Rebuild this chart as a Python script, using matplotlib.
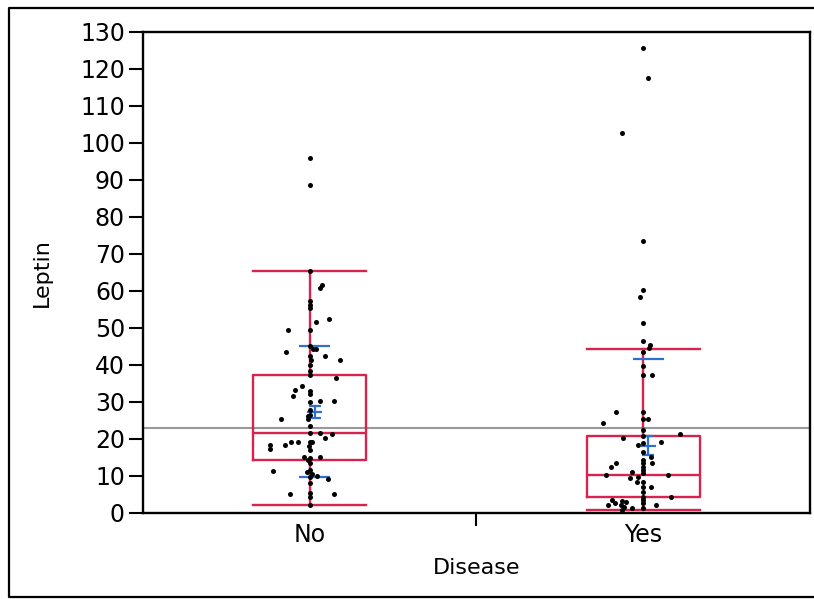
import numpy as np
import matplotlib.pyplot as plt
from matplotlib.lines import Line2D

groups = ['No', 'Yes']

# leptin values, with the horizontal jitter of each dot
leptin_no = [95.9, 88.6, 65.4, 60.9, 61.5, 57.2, 56.3, 55.4, 51.5, 52.3,
             49.4, 49.4, 43.4, 45.0, 44.3, 44.3, 42.3, 41.4, 42.3, 41.4,
             40.1, 38.3, 37.4, 36.5, 33.3, 34.2, 31.5, 33.1, 32.2, 30.1,
             30.3, 30.3, 27.9, 26.5, 26.1, 25.4, 25.4, 23.4, 21.7, 21.6,
             20.2, 21.3, 18.4, 17.2, 18.4, 19.3, 19.3, 19.3, 19.3, 18.0,
             17.1, 15.2, 14.8, 14.4, 15.2, 11.4, 13.4, 11.6, 11.2, 10.6,
             9.8, 10.0, 9.3, 8.0, 5.1, 5.1, 5.3, 4.2, 2.2]
jit_no = [0, 0, 0, 0.03, 0.038, 0, 0, 0, 0.02, 0.058,
          -0.064, 0, -0.072, 0, 0.01, 0.02, 0, 0.005, 0.047, 0.09,
          0, 0, 0, 0.08, -0.045, -0.023, -0.05, 0, 0, 0,
          0.03, 0.073, 0, 0, -0.006, -0.085, -0.006, 0, 0, 0.03,
          0.047, 0.067, -0.118, -0.118, -0.074, -0.055, -0.036, 0, 0.007, -0.003,
          0, -0.018, 0, -0.006, 0.03, -0.11, 0, 0, -0.008, 0.006,
          0, 0.023, 0.055, 0, -0.06, 0.072, 0, 0, 0]

leptin_yes = [125.6, 117.5, 102.6, 73.5, 60.4, 58.4, 51.4, 46.4, 45.5, 44.6,
              43.4, 39.6, 37.4, 37.4, 27.4, 24.3, 27.2, 25.4, 25.4, 22.5,
              21.4, 20.4, 20.7, 19.3, 18.9, 18.4, 16.6, 15.2, 13.4, 13.4,
              12.4, 14.4, 13.4, 12.5, 11.6, 10.7, 11.2, 10.3, 10.3, 9.8,
              8.5, 8.5, 9.4, 7.1, 7.1, 5.8, 4.4, 4.2, 3.5, 2.6,
              2.2, 3.5, 2.8, 2.2, 3.3, 2.2, 3.1, 1.7, 1.3, 0.8, 1.3]
jit_yes = [0, 0.013, -0.063, 0, 0, -0.011, 0, 0, 0.02, 0.018,
           0, 0, 0, 0.027, -0.083, -0.12, 0, 0, 0.015, 0,
           0.11, -0.061, 0, 0.054, 0, -0.015, 0, 0.022, 0.027, -0.083,
           -0.098, 0, 0, 0, 0, 0, -0.033, -0.113, 0.074, -0.015,
           0, -0.018, -0.04, 0, 0.022, 0, 0, 0.083, 0, 0,
           0.037, -0.093, -0.086, -0.106, -0.063, -0.068, -0.053, -0.058, -0.033, -0.063, 0]

# box summaries as drawn
q1 = [14.4, 4.3]
med = [21.7, 10.3]
q3 = [37.4, 20.7]
whis_lo = [2.2, 0.8]
whis_hi = [65.4, 44.4]

# mean, mean error bar and std dev lines
means = [27.3, 18.2]
mean_lo = [25.6, 15.7]
mean_hi = [29.0, 20.7]
sd = [17.7, 23.5]

grand_mean = 23.0

red = '#d8234f'
blue = '#2f6fd0'

fig = plt.figure(figsize=(8.14, 5.99), dpi=100)
ax = fig.add_axes([0.1757, 0.1436, 0.8193, 0.803])

ax.axhline(grand_mean, color='#999999', lw=1.5, zorder=1)

stats = []
for i in range(2):
    stats.append(dict(med=med[i], q1=q1[i], q3=q3[i],
                      whislo=whis_lo[i], whishi=whis_hi[i], fliers=[]))
ax.bxp(stats, positions=[0, 1], widths=0.34, capwidths=0.34,
       showfliers=False, manage_ticks=False,
       boxprops=dict(color=red, lw=1.7),
       whiskerprops=dict(color=red, lw=1.7),
       capprops=dict(color=red, lw=1.7),
       medianprops=dict(color=red, lw=1.7))

for i in range(2):
    c = i + 0.015
    ax.hlines([means[i] - sd[i], means[i] + sd[i]], c - 0.047, c + 0.047,
              color=blue, lw=1.6, zorder=3)
    ax.errorbar([c], [means[i]], yerr=[[means[i] - mean_lo[i]], [mean_hi[i] - means[i]]],
                fmt='none', ecolor=blue, elinewidth=1.6, capsize=4, capthick=1.6, zorder=3)
    ax.hlines(means[i], c - 0.022, c + 0.022, color=blue, lw=1.6, zorder=3)

ax.scatter(np.array(jit_no), leptin_no, s=13, color='black', zorder=4, lw=0)
ax.scatter(1 + np.array(jit_yes), leptin_yes, s=13, color='black', zorder=4, lw=0)

ax.set_xlim(-0.5, 1.5)
ax.set_ylim(0, 130)
ax.set_yticks(range(0, 131, 10))
ax.set_xticks([0.5])
ax.set_xticklabels([''])
ax.set_xticks([0, 1], minor=True)
ax.set_xticklabels(groups, minor=True)
ax.tick_params(axis='x', which='minor', length=0, pad=7, labelsize=17)
ax.tick_params(axis='x', which='major', length=9, width=1.5)
ax.tick_params(axis='y', length=10, width=1.5, pad=3, labelsize=17)

for s in ax.spines.values():
    s.set_linewidth(1.7)

ax.set_ylabel('Leptin', fontsize=16, labelpad=20)
ax.set_xlabel('Disease', fontsize=16, labelpad=8)

# outer frame: left, top and bottom edges only
fx = [1.01, 9 / 814, 9 / 814, 1.01]
fy = [1 - 8 / 599, 1 - 8 / 599, 2 / 599, 2 / 599]
fig.lines.append(Line2D(fx, fy, transform=fig.transFigure, color='black', lw=1.6))

fig.savefig('out.png', dpi=100)
